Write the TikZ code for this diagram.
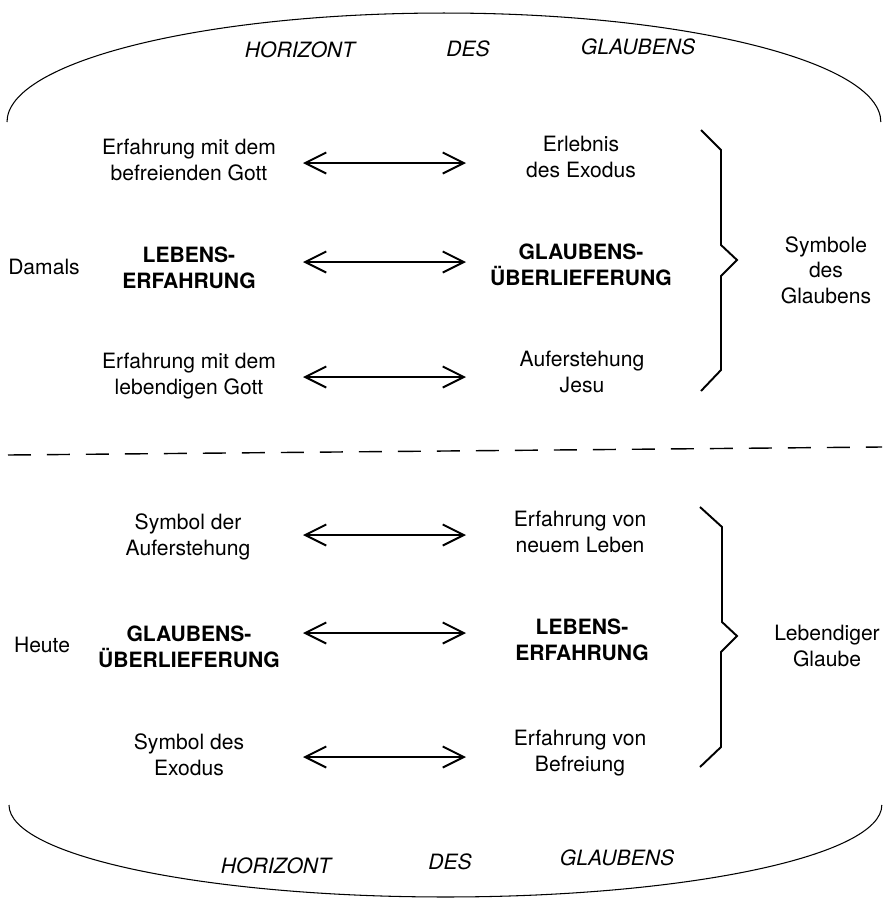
\documentclass[tikz,border=0pt]{standalone}
\usepackage{fontspec}
\setmainfont{TeX Gyre Heros}
\usetikzlibrary{arrows.meta}

\tikzset{
    txt/.style={align=center, inner sep=0pt, font=\fontsize{12}{14.5}\selectfont},
    keytxt/.style={txt, font=\fontsize{12}{14.5}\selectfont\bfseries},
    hor/.style={inner sep=0pt, font=\fontsize{12}{14.5}\selectfont\itshape},
    dblarrow/.style={{Straight Barb[length=12pt,width=12pt]}-{Straight Barb[length=12pt,width=12pt]}, line width=1.1pt},
    brace/.style={line width=1.1pt, line join=miter},
    horizon/.style={line width=0.6pt}
}

\begin{document}
\begin{tikzpicture}[x=0.02cm, y=-0.02cm]
    \useasboundingbox (0,0) rectangle (885,900);

    % Horizont oben und unten
    \draw[horizon] (7,122) arc[start angle=180, end angle=0, x radius=8.74cm, y radius=2.18cm];
    \draw[horizon] (9,805) arc[start angle=180, end angle=360, x radius=8.73cm, y radius=1.84cm];
    \node[hor] (hor1) at (300,50) {HORIZONT};
    \node[hor] (des1) at (468,49) {DES};
    \node[hor] (gla1) at (638,47) {GLAUBENS};
    \node[hor] (hor2) at (276,866) {HORIZONT};
    \node[hor] (des2) at (450,862) {DES};
    \node[hor] (gla2) at (617,858) {GLAUBENS};

    % Trennlinie
    \draw[line width=0.8pt, dash pattern=on 0.46cm off 0.32cm] (8,455) -- (882,447);

    % Damals
    \node[txt] (damals) at (44,267) {Damals};
    \node[txt] (befr) at (189,160) {Erfahrung mit dem\\befreienden Gott};
    \node[keytxt] (leb1) at (189,268) {LEBENS-\\ERFAHRUNG};
    \node[txt] (lebd) at (189,376) {Erfahrung mit dem\\lebendigen Gott};
    \node[txt] (exod1) at (581,157) {Erlebnis\\des Exodus};
    \node[keytxt] (gla3) at (581,265) {GLAUBENS-\\ÜBERLIEFERUNG};
    \node[txt] (aufe1) at (582,372) {Auferstehung\\Jesu};
    \node[txt] (symb) at (826,270) {Symbole\\des\\Glaubens};

    % Heute
    \node[txt] (heute) at (42,645) {Heute};
    \node[txt] (aufe2) at (188,537) {Symbol der\\Auferstehung};
    \node[keytxt] (gla4) at (189,647) {GLAUBENS-\\ÜBERLIEFERUNG};
    \node[txt] (exod2) at (189,755) {Symbol des\\Exodus};
    \node[txt] (neu) at (580,532) {Erfahrung von\\neuem Leben};
    \node[keytxt] (leb2) at (582,640) {LEBENS-\\ERFAHRUNG};
    \node[txt] (befr2) at (580,753) {Erfahrung von\\Befreiung};
    \node[txt] (lglb) at (827,646) {Lebendiger\\Glaube};

    % Pfeile
    \coordinate (a1) at (303,163);
    \coordinate (b1) at (466,163);
    \coordinate (a2) at (303,262);
    \coordinate (b2) at (466,262);
    \coordinate (a3) at (303,377);
    \coordinate (b3) at (466,377);
    \coordinate (a4) at (303,535);
    \coordinate (b4) at (466,535);
    \coordinate (a5) at (303,633);
    \coordinate (b5) at (466,633);
    \coordinate (a6) at (303,757);
    \coordinate (b6) at (466,757);
    \draw[dblarrow] (a1) -- (b1);
    \draw[dblarrow] (a2) -- (b2);
    \draw[dblarrow] (a3) -- (b3);
    \draw[dblarrow] (a4) -- (b4);
    \draw[dblarrow] (a5) -- (b5);
    \draw[dblarrow] (a6) -- (b6);

    % Klammern
    \draw[brace] (701,130) -- (721,150) -- (721,245) -- (737,260) -- (721,276) -- (721,370) -- (701,391);
    \draw[brace] (700,507) -- (722,527) -- (722,622) -- (737,636) -- (721,652) -- (721,747) -- (700,767);
\end{tikzpicture}
\end{document}
